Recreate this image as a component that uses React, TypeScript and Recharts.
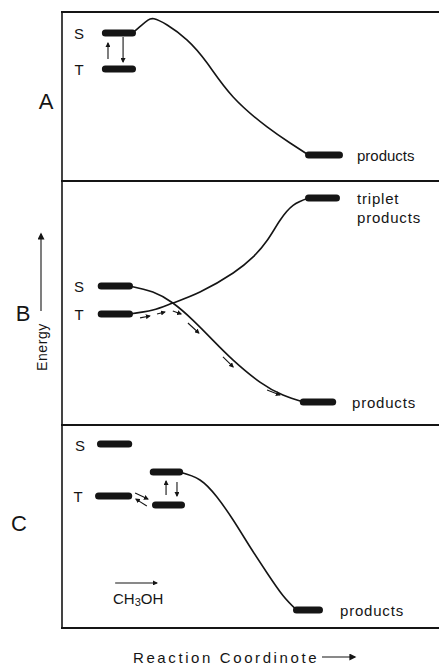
import React from 'react';
import { LineChart, Line, XAxis, YAxis, ReferenceLine } from 'recharts';

type Pt = { x: number; y: number };
type Arrow = { x1: number; y1: number; x2: number; y2: number };

// panel A: S/T levels, one path to products
const aSinglet: Pt[] = [{ x: 11.5, y: 87.6 }, { x: 18.7, y: 87.6 }];
const aTriplet: Pt[] = [{ x: 11.5, y: 66.3 }, { x: 18.7, y: 66.3 }];
const aProducts: Pt[] = [{ x: 65.4, y: 15.4 }, { x: 73.6, y: 15.4 }];
const aPath: Pt[] = [
  { x: 18.7, y: 87.6 }, { x: 21.0, y: 92.0 }, { x: 22.8, y: 95.2 }, { x: 24.4, y: 96.0 },
  { x: 27.9, y: 92.3 }, { x: 33.2, y: 83.4 }, { x: 38.5, y: 69.8 }, { x: 45.4, y: 49.7 },
  { x: 54.4, y: 32.0 }, { x: 60.5, y: 22.5 }, { x: 65.4, y: 15.4 },
];
const aArrows: Arrow[] = [
  { x1: 12.2, y1: 72.2, x2: 12.2, y2: 81.7 },
  { x1: 16.2, y1: 85.2, x2: 16.2, y2: 70.4 },
];

// panel B: crossing singlet / triplet surfaces
const bSinglet: Pt[] = [{ x: 10.4, y: 57.0 }, { x: 17.9, y: 57.0 }];
const bTriplet: Pt[] = [{ x: 10.4, y: 45.5 }, { x: 17.9, y: 45.5 }];
const bTripletProducts: Pt[] = [{ x: 65.4, y: 93.0 }, { x: 72.8, y: 93.0 }];
const bProducts: Pt[] = [{ x: 64.0, y: 9.4 }, { x: 71.8, y: 9.4 }];
const bSingletPath: Pt[] = [
  { x: 17.9, y: 57.0 }, { x: 24.1, y: 54.5 }, { x: 29.4, y: 50.0 }, { x: 34.7, y: 43.0 },
  { x: 40.0, y: 34.8 }, { x: 45.4, y: 26.6 }, { x: 52.5, y: 17.6 }, { x: 58.6, y: 12.3 },
  { x: 64.0, y: 9.4 },
];
const bTripletPath: Pt[] = [
  { x: 17.9, y: 45.5 }, { x: 24.1, y: 47.1 }, { x: 29.4, y: 50.0 }, { x: 36.6, y: 54.5 },
  { x: 45.4, y: 62.3 }, { x: 50.7, y: 68.9 }, { x: 54.4, y: 75.6 }, { x: 57.8, y: 83.8 },
  { x: 61.3, y: 90.0 }, { x: 65.4, y: 93.0 },
];
const bArrows: Arrow[] = [
  { x1: 20.7, y1: 43.9, x2: 23.3, y2: 44.7 },
  { x1: 25.2, y1: 45.5, x2: 27.3, y2: 46.3 },
  { x1: 29.4, y1: 46.7, x2: 31.6, y2: 45.5 },
  { x1: 33.4, y1: 41.8, x2: 36.3, y2: 37.7 },
  { x1: 42.7, y1: 27.9, x2: 45.4, y2: 23.8 },
  { x1: 54.4, y1: 14.3, x2: 57.8, y2: 12.3 },
];

// panel C: methanol complex
const cSinglet: Pt[] = [{ x: 10.2, y: 90.6 }, { x: 17.7, y: 90.6 }];
const cTriplet: Pt[] = [{ x: 9.7, y: 65.0 }, { x: 17.7, y: 65.0 }];
const cUpper: Pt[] = [{ x: 24.2, y: 76.8 }, { x: 31.2, y: 76.8 }];
const cLower: Pt[] = [{ x: 24.8, y: 60.6 }, { x: 31.7, y: 60.6 }];
const cProducts: Pt[] = [{ x: 62.2, y: 8.9 }, { x: 68.3, y: 8.9 }];
const cPath: Pt[] = [
  { x: 31.2, y: 76.8 }, { x: 36.6, y: 72.9 }, { x: 41.1, y: 64.5 }, { x: 45.4, y: 53.2 },
  { x: 49.9, y: 39.9 }, { x: 54.4, y: 27.1 }, { x: 58.6, y: 16.0 }, { x: 62.2, y: 8.9 },
];
const cArrows: Arrow[] = [
  { x1: 27.6, y1: 65.5, x2: 27.6, y2: 72.4 },
  { x1: 30.5, y1: 71.9, x2: 30.5, y2: 65.0 },
  { x1: 19.4, y1: 66.5, x2: 22.8, y2: 63.5 },
  { x1: 22.5, y1: 60.1, x2: 19.6, y2: 63.5 },
  { x1: 14.1, y1: 22.2, x2: 25.2, y2: 22.2 },
];

const INK = '#151515';
const FONT = '"Liberation Sans", Arial, sans-serif';

interface PanelProps {
  top: number;
  height: number;
  levels: Pt[][];
  paths: Pt[][];
  arrows: Arrow[];
}

const Panel: React.FC<PanelProps> = ({ top, height, levels, paths, arrows }) => (
  <div style={{ position: 'absolute', left: 62, top, width: 377, height }}>
    <LineChart width={377} height={height} margin={{ top: 0, right: 0, bottom: 0, left: 0 }}>
      <XAxis type="number" dataKey="x" domain={[0, 100]} hide allowDataOverflow />
      <YAxis type="number" dataKey="y" domain={[0, 100]} hide allowDataOverflow />
      {paths.map((p, i) => (
        <Line
          key={`p-${i}`}
          data={p}
          dataKey="y"
          type="natural"
          stroke={INK}
          strokeWidth={1.6}
          dot={false}
          activeDot={false}
          isAnimationActive={false}
        />
      ))}
      {levels.map((l, i) => (
        <Line
          key={`l-${i}`}
          data={l}
          dataKey="y"
          type="linear"
          stroke={INK}
          strokeWidth={7}
          strokeLinecap="round"
          dot={false}
          activeDot={false}
          isAnimationActive={false}
        />
      ))}
      {arrows.map((a, i) => (
        <ReferenceLine
          key={`a-${i}`}
          segment={[{ x: a.x1, y: a.y1 }, { x: a.x2, y: a.y2 }]}
          shape={(p: any) => (
            <line x1={p.x1} y1={p.y1} x2={p.x2} y2={p.y2} stroke={INK} strokeWidth={1.1} markerEnd="url(#head)" />
          )}
        />
      ))}
    </LineChart>
  </div>
);

export default function App() {
  const txt = { fill: INK, fontFamily: FONT } as const;
  return (
    <div style={{ position: 'absolute', left: 0, top: 0, width: 439, height: 665, background: '#fff' }}>
      <svg width={0} height={0} style={{ position: 'absolute' }}>
        <defs>
          <marker id="head" viewBox="0 0 10 10" refX="8" refY="5" markerWidth="5" markerHeight="5"
            markerUnits="userSpaceOnUse" orient="auto">
            <path d="M0,0 L10,5 L0,10 z" fill={INK} />
          </marker>
          <marker id="bighead" viewBox="0 0 10 10" refX="8" refY="5" markerWidth="8" markerHeight="7"
            markerUnits="userSpaceOnUse" orient="auto">
            <path d="M0,0 L10,5 L0,10 z" fill={INK} />
          </marker>
        </defs>
      </svg>

      <Panel top={12} height={169} levels={[aSinglet, aTriplet, aProducts]} paths={[aPath]} arrows={aArrows} />
      <Panel top={181} height={244} levels={[bSinglet, bTriplet, bTripletProducts, bProducts]}
        paths={[bSingletPath, bTripletPath]} arrows={bArrows} />
      <Panel top={425} height={203} levels={[cSinglet, cTriplet, cUpper, cLower, cProducts]}
        paths={[cPath]} arrows={cArrows} />

      <svg width={439} height={665} style={{ position: 'absolute', left: 0, top: 0, pointerEvents: 'none' }}>
        {/* frame */}
        <line x1={62} y1={11} x2={62} y2={629} stroke={INK} strokeWidth={1.6} />
        {[12, 181, 425, 628].map((y) => (
          <line key={y} x1={61} y1={y} x2={439} y2={y} stroke={INK} strokeWidth={1.8} />
        ))}

        <g fontSize={22} {...txt} textAnchor="middle" dominantBaseline="central">
          <text x={46} y={101}>A</text>
          <text x={23} y={313}>B</text>
          <text x={19} y={523}>C</text>
        </g>

        <g fontSize={15} {...txt} textAnchor="middle" dominantBaseline="central">
          <text x={79} y={33}>S</text>
          <text x={79} y={69}>T</text>
          <text x={79} y={286}>S</text>
          <text x={79} y={314}>T</text>
          <text x={80} y={445}>S</text>
          <text x={78} y={496}>T</text>
        </g>

        <g fontSize={15} {...txt} dominantBaseline="central">
          <text x={357} y={155}>products</text>
          <text x={357} y={198} letterSpacing={0.8}>triplet</text>
          <text x={357} y={217} letterSpacing={0.8}>products</text>
          <text x={352} y={402} letterSpacing={0.8}>products</text>
          <text x={340} y={610} letterSpacing={0.8}>products</text>
          <text x={113} y={598}>
            CH<tspan fontSize={11} dy={4}>3</tspan><tspan dy={-4}>OH</tspan>
          </text>
        </g>

        {/* energy axis */}
        <line x1={41} y1={311} x2={41} y2={234} stroke={INK} strokeWidth={1.1} markerEnd="url(#bighead)" />
        <text x={42} y={347} fontSize={14} {...txt} letterSpacing={0.6} textAnchor="middle" dominantBaseline="central"
          transform="rotate(-90 42 347)">Energy</text>

        {/* reaction coordinate */}
        <text x={133} y={657} fontSize={15} {...txt} letterSpacing={2.6} dominantBaseline="central">
          Reaction Coordinote
        </text>
        <line x1={322} y1={657} x2={355} y2={657} stroke={INK} strokeWidth={1.1} markerEnd="url(#bighead)" />
      </svg>
    </div>
  );
}
